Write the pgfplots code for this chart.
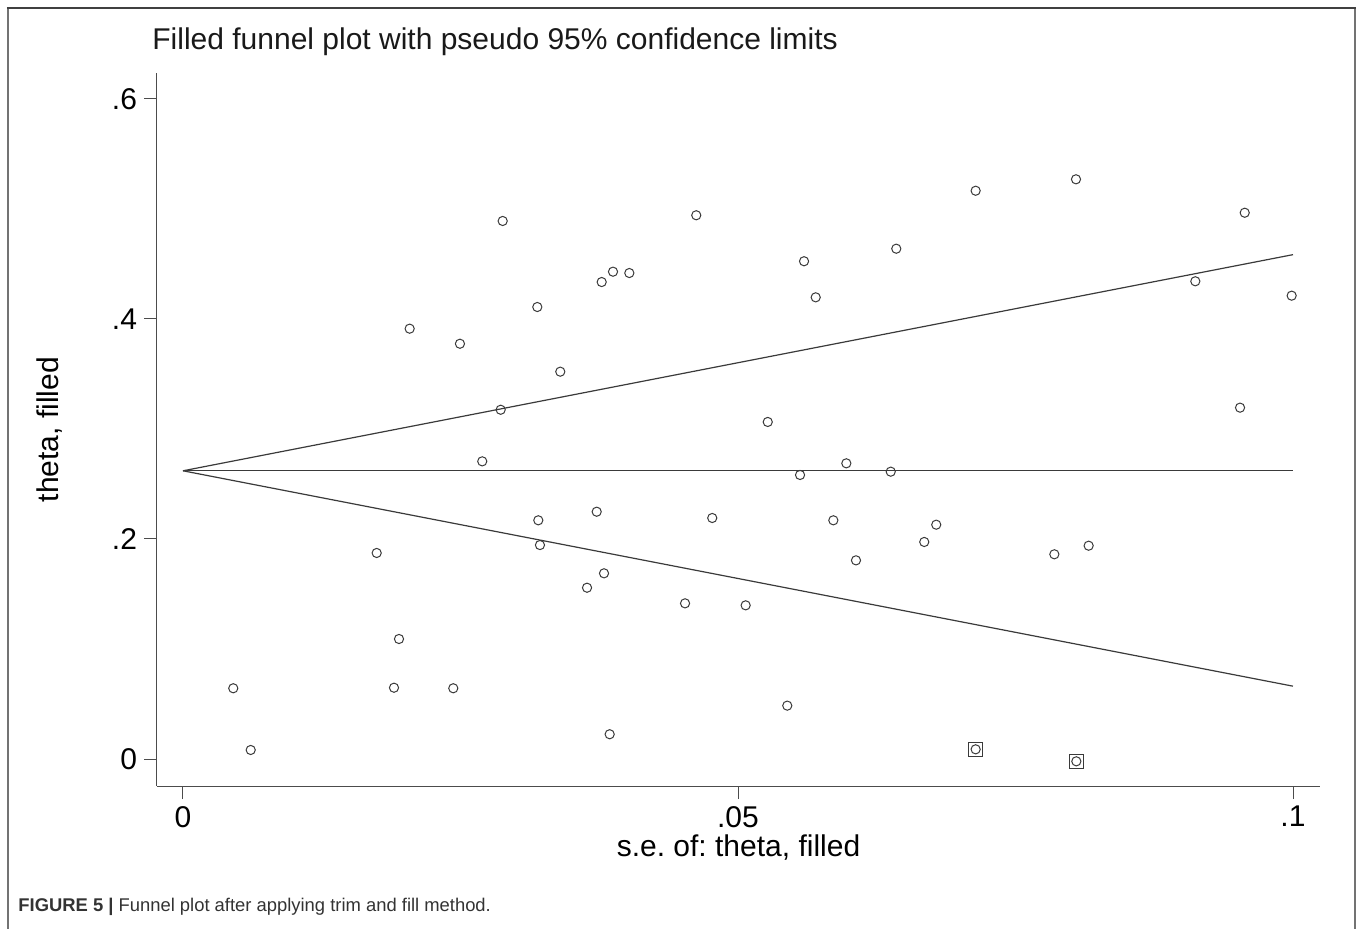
\documentclass[border=0pt]{standalone}
\usepackage{fontspec}
\setmainfont{Liberation Sans}
\usepackage{pgfplots}
\pgfplotsset{compat=1.18}
\definecolor{pt}{HTML}{3A3A3A}
\frenchspacing
\begin{document}
\frenchspacing
\begin{tikzpicture}
\useasboundingbox (-78.5pt,-71pt) rectangle (600pt,393pt);
\draw[line width=1pt, black!55] (-74.5pt,-75pt) -- (-74.5pt,389pt);
\draw[line width=1pt, black!55] (599pt,-75pt) -- (599pt,389pt);
\draw[line width=1pt, black!75] (-75pt,389pt) -- (599.5pt,389pt);
\begin{axis}[
  at={(0,0)}, anchor=south west, scale only axis,
  width=581.5pt, height=356.5pt,
  xmin=-0.002342, xmax=0.102432, ymin=-0.024545, ymax=0.623636,
  axis lines*=left, axis line style={-, black!70, line width=0.5pt},
  tick align=outside, major tick length=6.5pt,
  tick style={black!70, line width=0.5pt},
  xtick={0,0.05,0.1}, xticklabels={0,.05,.1},
  ytick={0,0.2,0.4,0.6}, yticklabels={0,.2,.4,.6},
  /pgf/number format/assume math mode=true,
  ticklabel style={font=\fontsize{15}{18}\selectfont},
  label style={font=\fontsize{15}{18}\selectfont},
  xlabel={s.e.\ of:\ theta, filled}, ylabel={theta, filled},
  xlabel style={at={(axis description cs:0.5,-0.087)}, anchor=center},
  ylabel style={at={(axis description cs:-0.092,0.5)}, anchor=center},
]
\addplot[pt, line width=0.6pt] coordinates {(0,0.2620) (0.1,0.2620)};
\addplot[pt, line width=0.6pt] coordinates {(0,0.2620) (0.1,0.4585)};
\addplot[pt, line width=0.6pt] coordinates {(0,0.2620) (0.1,0.0662)};
\addplot[only marks, mark=o, mark size=2.3pt, pt, mark options={line width=0.5pt}] coordinates {
(0.00453,0.0643) (0.00610,0.0082) (0.01745,0.1873) (0.01901,0.0648)
(0.01946,0.1091) (0.02042,0.3912) (0.02435,0.0643) (0.02495,0.3775)
(0.02696,0.2706) (0.02862,0.3175) (0.02880,0.4891) (0.03192,0.4109)
(0.03201,0.2170) (0.03216,0.1945) (0.03399,0.3521) (0.03640,0.1557)
(0.03727,0.2248) (0.03772,0.4336) (0.03793,0.1688) (0.03844,0.0225)
(0.03874,0.4430) (0.04021,0.4418) (0.04523,0.1415) (0.04624,0.4943)
(0.04768,0.2191) (0.05069,0.1397) (0.05268,0.3064) (0.05444,0.0485)
(0.05559,0.2582) (0.05595,0.4525) (0.05700,0.4197) (0.05859,0.2170)
(0.05976,0.2688) (0.06063,0.1806) (0.06376,0.2612) (0.06426,0.4639)
(0.06678,0.1973) (0.06786,0.2130) (0.07141,0.5166) (0.07850,0.1861)
(0.08045,0.5270) (0.08159,0.1939) (0.09120,0.4343) (0.09523,0.3194)
(0.09565,0.4966) (0.09988,0.4212)
(0.07141,0.0088) (0.08048,-0.0021)
};
\addplot[only marks, mark=square, mark size=3.5pt, pt, mark options={line width=0.5pt}] coordinates {
(0.07141,0.0088) (0.08048,-0.0021)
};
\end{axis}
\node[anchor=west, inner sep=0pt, font=\fontsize{15}{18}\selectfont, text=black!90] at (-2.5pt,372pt) {Filled funnel plot with pseudo 95\% confidence limits};
\node[anchor=west, inner sep=0pt, font=\fontsize{9.2}{11}\selectfont, text=black!80] at (-69.5pt,-60.5pt) {\textbf{FIGURE 5} \textbf{|} Funnel plot after applying trim and fill method.};
\end{tikzpicture}
\end{document}
